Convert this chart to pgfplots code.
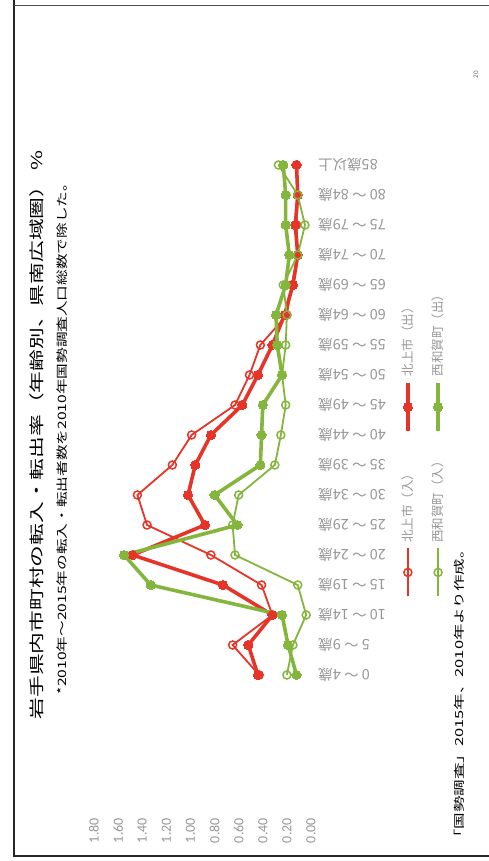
\documentclass[border=0pt]{standalone}
\usepackage{graphicx}
\usepackage{pgfplots}
\usepackage{pgfplotstable}
\pgfplotsset{compat=1.18}
\usepackage{fontspec}
\setmainfont{Noto Sans CJK JP}
\newfontfamily\numfont{Carlito}

\definecolor{kitared}{RGB}{230,52,40}
\definecolor{nishigreen}{RGB}{132,182,62}
\definecolor{labelgray}{RGB}{150,150,150}

% age group index, Kitakami in/out, Nishiwaga in/out (% of 2010 population)
\pgfplotstableread{
i  kin   kout  nin   nout
0  0.43  0.44  0.20  0.12
1  0.65  0.52  0.15  0.19
2  0.32  0.32  0.04  0.24
3  0.41  0.73  0.11  1.33
4  0.83  1.48  0.63  1.55
5  1.36  0.88  0.65  0.61
6  1.44  1.02  0.60  0.80
7  1.15  0.96  0.30  0.42
8  0.99  0.83  0.25  0.41
9  0.63  0.57  0.21  0.40
10 0.51  0.44  0.24  0.24
11 0.42  0.32  0.21  0.28
12 0.20  0.22  0.20  0.29
13 0.16  0.15  0.23  0.21
14 0.11  0.11  0.11  0.18
15 0.12  0.13  0.05  0.21
16 0.11  0.11  0.11  0.21
17 0.12  0.12  0.27  0.23
}\rates

\begin{document}
% the scanned slide lies on its side
\rotatebox{90}{%
\begin{tikzpicture}
\useasboundingbox (0,0) rectangle (861pt,489pt);
% slide frame
\draw[line width=1.2pt, black!85] (861pt,475pt) -- (5pt,475pt) -- (5pt,0pt);
\draw[line width=0.8pt, black!70] (856pt,475pt) -- (856pt,0pt);

% titles
\node[xscale=1.45, font=\fontsize{15}{18}\selectfont] at (426pt,452pt)
  {岩手県内市町村の転入・転出率（年齢別、県南広域圏） \%};
\node[xscale=1.36, font=\fontsize{11.5}{14}\selectfont] at (426pt,427pt)
  {*2010年～2015年の転入・転出者数を2010年国勢調査人口総数で除した。};
\node[xscale=1.5, font=\fontsize{11}{13}\selectfont] at (167pt,30pt)
  {「国勢調査」2015年、2010年より作成。};
\node[font=\numfont\fontsize{7}{8}\selectfont, text=black!60] at (786pt,13pt) {20};

\begin{axis}[
  at={(171pt,178pt)}, anchor=south west,
  width=540pt, height=217pt, scale only axis,
  xmin=-0.5, xmax=17.5,
  ymin=0, ymax=1.8,
  axis line style={draw=none},
  major tick length=0pt,
  xtick={0,...,17},
  xticklabels={0 ～ 4歳,5 ～ 9歳,10 ～ 14歳,15 ～ 19歳,20 ～ 24歳,25 ～ 29歳,
    30 ～ 34歳,35 ～ 39歳,40 ～ 44歳,45 ～ 49歳,50 ～ 54歳,55 ～ 59歳,
    60 ～ 64歳,65 ～ 69歳,70 ～ 74歳,75 ～ 79歳,80 ～ 84歳,85歳以上},
  xticklabel style={rotate=90, anchor=east, inner sep=0pt, text=labelgray,
    font=\fontsize{14.5}{16}\selectfont},
  xticklabel shift=7pt,
  ytick={0,0.2,0.4,0.6,0.8,1.0,1.2,1.4,1.6,1.8},
  yticklabels={0.00,0.20,0.40,0.60,0.80,1.00,1.20,1.40,1.60,1.80},
  yticklabel style={anchor=east, inner sep=0pt, text=labelgray,
    font=\numfont\fontsize{14}{16}\selectfont},
  yticklabel shift=128pt,
  legend columns=2,
  legend cell align=left,
  legend style={draw=none, fill=none,
    at={(axis description cs:0.459,-0.516)}, anchor=center,
    font=\fontsize{12.5}{15}\selectfont, text=labelgray,
    row sep=14pt,
    /tikz/every odd column/.append style={column sep=3pt},
    /tikz/every even column/.append style={column sep=20pt}},
  legend image code/.code={%
    \draw[mark repeat=2, mark phase=2, #1]
      plot coordinates {(0pt,0pt) (24pt,0pt) (48pt,0pt)};},
]
\addplot[kitared, line width=1.8pt, mark=o, mark size=4pt,
  mark options={fill=white, line width=1.5pt}] table[x=i, y=kin] {\rates};
\addlegendentry{北上市（入）}
\addplot[kitared, line width=3.6pt, mark=*, mark size=4.6pt,
  mark options={line width=0pt}] table[x=i, y=kout] {\rates};
\addlegendentry{北上市（出）}
\addplot[nishigreen, line width=1.8pt, mark=o, mark size=4pt,
  mark options={fill=white, line width=1.5pt}] table[x=i, y=nin] {\rates};
\addlegendentry{西和賀町（入）}
\addplot[nishigreen, line width=3.6pt, mark=*, mark size=4.6pt,
  mark options={line width=0pt}] table[x=i, y=nout] {\rates};
\addlegendentry{西和賀町（出）}
\end{axis}
\end{tikzpicture}%
}
\end{document}
